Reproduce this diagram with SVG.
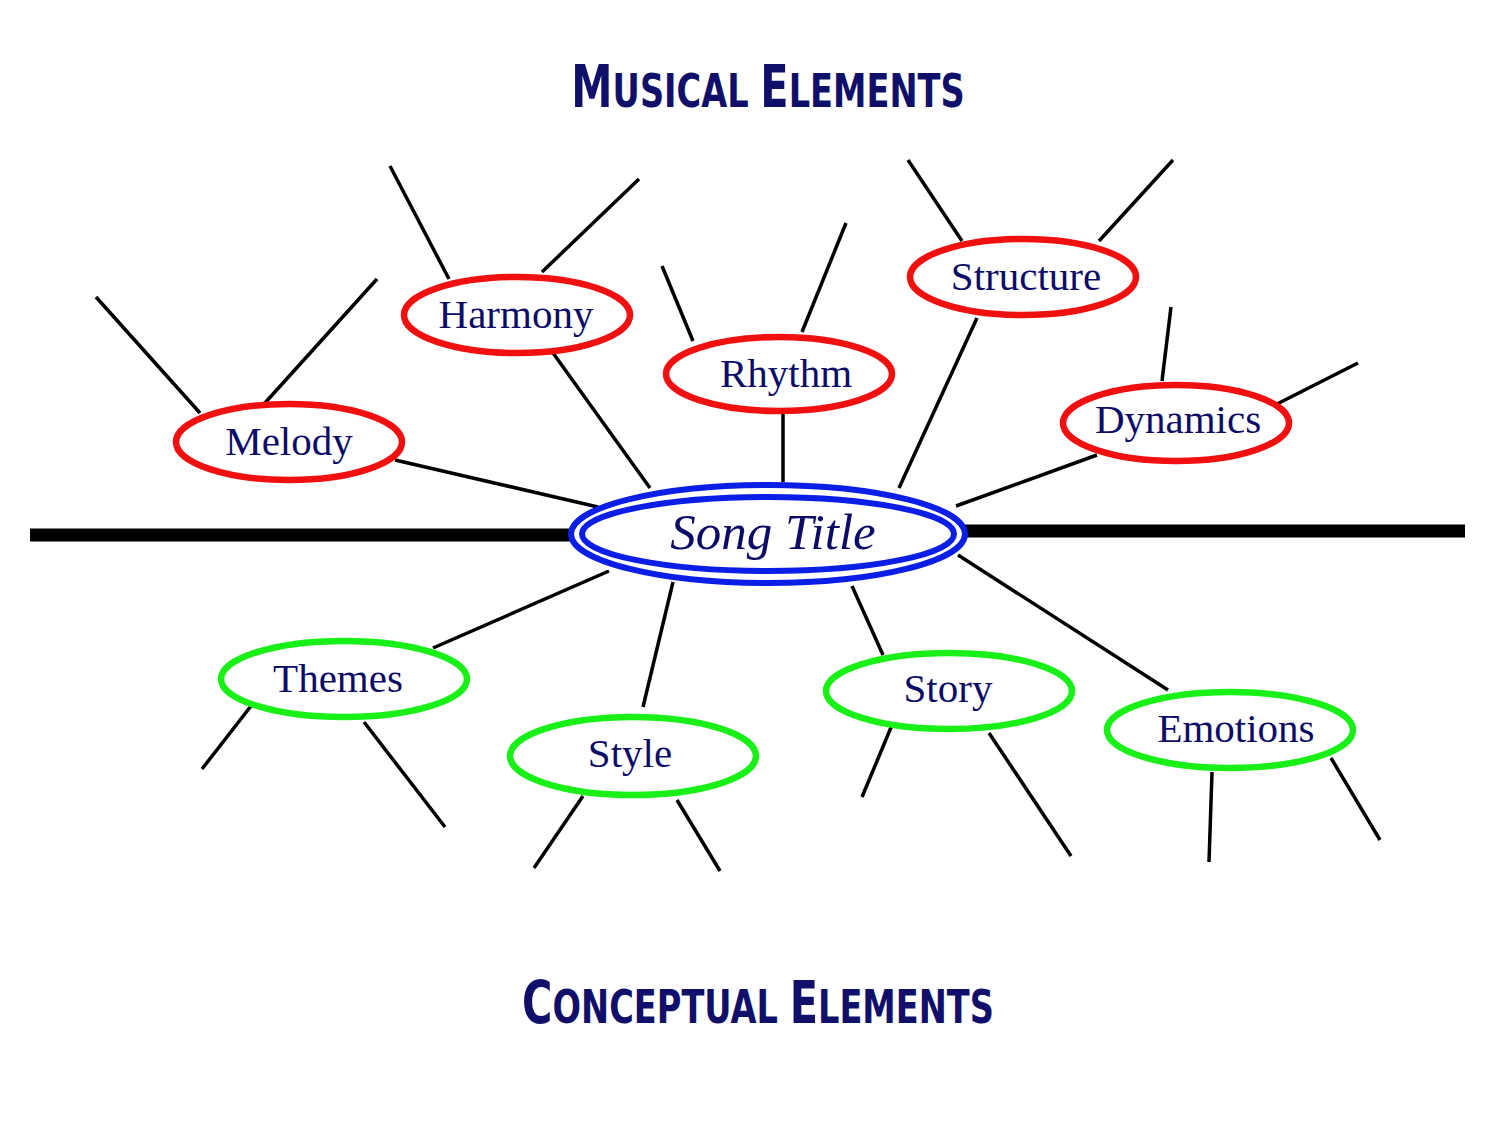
<svg xmlns="http://www.w3.org/2000/svg" width="1500" height="1125" viewBox="0 0 1500 1125">
<style>
.bg{fill:#ffffff}
.line{stroke:#000;stroke-width:3.5;fill:none;stroke-linecap:butt}
.axis{stroke:#000;stroke-width:13}
.red{fill:#fff;stroke:#f01010;stroke-width:6.5}
.green{fill:#fff;stroke:#18f018;stroke-width:6.5}
.blue{fill:none;stroke:#0a1ee6;stroke-width:6}
.lbl{font-family:"Liberation Serif","Times New Roman",serif;font-size:41px;fill:#0c0c68;text-anchor:middle}
.title{font-family:"DejaVu Sans",sans-serif;font-weight:bold;fill:#10106a;text-anchor:middle}
.big{font-size:58px}
.sm{font-size:47px}
</style>
<rect class="bg" width="1500" height="1125"/>
<text class="title" x="0" y="107" transform="translate(768,0) scale(0.715,1)"><tspan class="big">M</tspan><tspan class="sm">USICAL </tspan><tspan class="big">E</tspan><tspan class="sm">LEMENTS</tspan></text>
<text class="title" x="0" y="1023" transform="translate(758,0) scale(0.715,1)"><tspan class="big">C</tspan><tspan class="sm">ONCEPTUAL </tspan><tspan class="big">E</tspan><tspan class="sm">LEMENTS</tspan></text>
<g id="connectors">
<line class="axis" x1="30" y1="535" x2="574" y2="535"/>
<line class="axis" x1="963" y1="531" x2="1465" y2="531"/>
<line class="line" x1="395" y1="460" x2="598" y2="507"/>
<line class="line" x1="553" y1="353" x2="650" y2="488"/>
<line class="line" x1="783" y1="414" x2="783" y2="482"/>
<line class="line" x1="977" y1="318" x2="899" y2="488"/>
<line class="line" x1="1097" y1="455" x2="956" y2="506"/>
<line class="line" x1="609" y1="571" x2="433" y2="648"/>
<line class="line" x1="673" y1="582" x2="643" y2="707"/>
<line class="line" x1="852" y1="586" x2="883" y2="655"/>
<line class="line" x1="958" y1="555" x2="1168" y2="690"/>
<line class="line" x1="96" y1="297" x2="200" y2="413"/>
<line class="line" x1="377" y1="279" x2="264" y2="404"/>
<line class="line" x1="390" y1="166" x2="449" y2="279"/>
<line class="line" x1="639" y1="179" x2="542" y2="272"/>
<line class="line" x1="662" y1="266" x2="693" y2="341"/>
<line class="line" x1="846" y1="223" x2="802" y2="332"/>
<line class="line" x1="908" y1="160" x2="962" y2="241"/>
<line class="line" x1="1173" y1="160" x2="1099" y2="241"/>
<line class="line" x1="1171" y1="307" x2="1162" y2="381"/>
<line class="line" x1="1358" y1="363" x2="1277" y2="404"/>
<line class="line" x1="251" y1="706" x2="202" y2="769"/>
<line class="line" x1="364" y1="722" x2="445" y2="827"/>
<line class="line" x1="583" y1="796" x2="534" y2="868"/>
<line class="line" x1="677" y1="800" x2="720" y2="871"/>
<line class="line" x1="892" y1="725" x2="862" y2="797"/>
<line class="line" x1="989" y1="733" x2="1071" y2="856"/>
<line class="line" x1="1212" y1="772" x2="1209" y2="862"/>
<line class="line" x1="1331" y1="758" x2="1380" y2="840"/>
</g>
<g id="song-title">
<ellipse cx="768" cy="534" rx="197" ry="49" fill="#fff" class="blue"/>
<ellipse cx="768" cy="534" rx="186" ry="37" class="blue"/>
<text class="lbl" x="773" y="549" style="font-size:51px;font-style:italic">Song Title</text>
</g>
<g id="melody"><ellipse class="red" cx="289" cy="442" rx="113" ry="38"/><text class="lbl" x="289" y="455">Melody</text></g>
<g id="harmony"><ellipse class="red" cx="517" cy="315" rx="113" ry="38"/><text class="lbl" x="516" y="328">Harmony</text></g>
<g id="rhythm"><ellipse class="red" cx="779" cy="374" rx="113" ry="37"/><text class="lbl" x="786" y="387">Rhythm</text></g>
<g id="structure"><ellipse class="red" cx="1023" cy="277" rx="113" ry="38"/><text class="lbl" x="1026" y="290">Structure</text></g>
<g id="dynamics"><ellipse class="red" cx="1176" cy="423" rx="113" ry="38"/><text class="lbl" x="1178" y="433">Dynamics</text></g>
<g id="themes"><ellipse class="green" cx="344" cy="679" rx="123" ry="38"/><text class="lbl" x="338" y="692">Themes</text></g>
<g id="style"><ellipse class="green" cx="633" cy="756" rx="123" ry="39"/><text class="lbl" x="630" y="767">Style</text></g>
<g id="story"><ellipse class="green" cx="949" cy="691" rx="123" ry="38"/><text class="lbl" x="948" y="702">Story</text></g>
<g id="emotions"><ellipse class="green" cx="1230" cy="730" rx="123" ry="38"/><text class="lbl" x="1236" y="742">Emotions</text></g>
</svg>
